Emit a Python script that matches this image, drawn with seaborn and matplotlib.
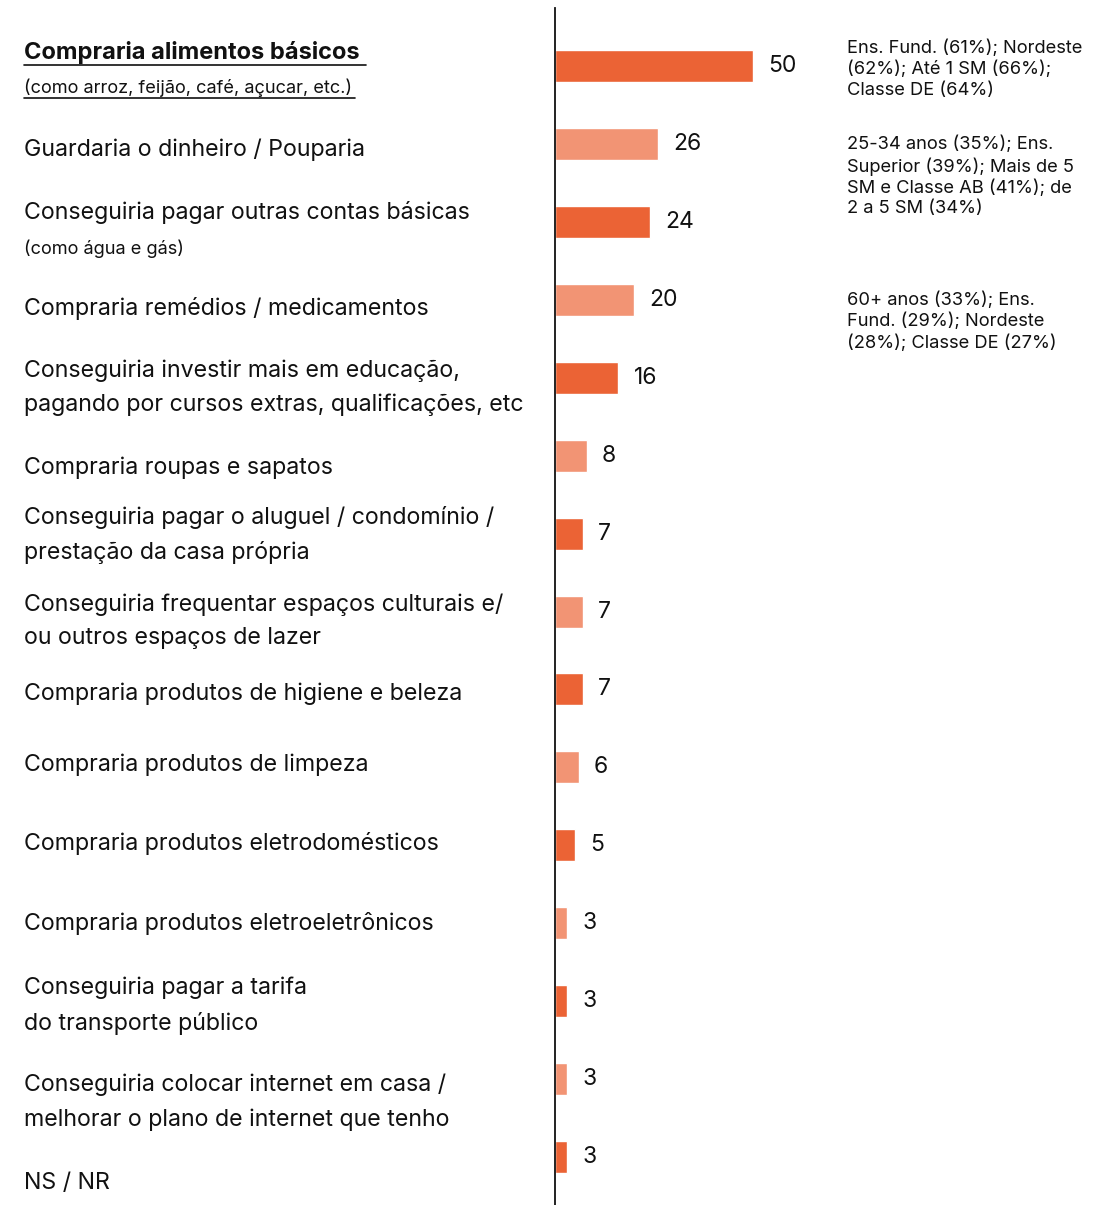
import numpy as np
import pandas as pd
import matplotlib.pyplot as plt
import matplotlib.transforms as mtransforms
from matplotlib.lines import Line2D
import seaborn as sns

# --- data (percent of respondents) ---
items = [
    "Compraria alimentos básicos",
    "Guardaria o dinheiro / Pouparia",
    "Conseguiria pagar outras contas básicas",
    "Compraria remédios / medicamentos",
    "Conseguiria investir mais em educação,\npagando por cursos extras, qualificações, etc",
    "Compraria roupas e sapatos",
    "Conseguiria pagar o aluguel / condomínio /\nprestação da casa própria",
    "Conseguiria frequentar espaços culturais e/\nou outros espaços de lazer",
    "Compraria produtos de higiene e beleza",
    "Compraria produtos de limpeza",
    "Compraria produtos eletrodomésticos",
    "Compraria produtos eletroeletrônicos",
    "Conseguiria pagar a tarifa\ndo transporte público",
    "Conseguiria colocar internet em casa /\nmelhorar o plano de internet que tenho",
    "NS / NR",
]
values = [50, 26, 24, 20, 16, 8, 7, 7, 7, 6, 5, 3, 3, 3, 3]
subtitles = {0: "(como arroz, feijão, café, açucar, etc.)", 2: "(como água e gás)"}
notes = {
    0: "Ens. Fund. (61%); Nordeste\n(62%); Até 1 SM (66%);\nClasse DE (64%)",
    1: "25-34 anos (35%); Ens.\nSuperior (39%); Mais de 5\nSM e Classe AB (41%); de\n2 a 5 SM (34%)",
    3: "60+ anos (33%); Ens.\nFund. (29%); Nordeste\n(28%); Classe DE (27%)",
}

# layout tweaks (vertical nudge of the left labels, in category units)
label_nudge = [-0.18, 0.075, -0.12, 0.117, 0.127, 0.16, 0.02, 0.125,
               0.05, -0.03, -0.02, 0.0, 0.06, 0.3, 0.34]
note_y = {0: 0.04, 1: 1.42, 3: 3.28}

DARK = "#EB6335"
LIGHT = "#F29474"

df = pd.DataFrame({
    "item": items,
    "value": values,
    "tone": ["a" if i % 2 == 0 else "b" for i in range(len(items))],
})

sns.set_theme(style="white")
plt.rcParams["font.family"] = ["Inter", "DejaVu Sans"]

W, H = 1114, 1205
fig = plt.figure(figsize=(W / 100, H / 100), dpi=100)
ax = fig.add_axes([555 / W, 0, 1 - 555 / W, 1 - 8 / H])

sns.barplot(data=df, x="value", y="item", hue="tone",
            palette={"a": DARK, "b": LIGHT}, width=0.41, dodge=False,
            legend=False, saturation=1, ax=ax)

for cont in ax.containers:
    ax.bar_label(cont, padding=11, fontsize=16.5, color="#111111")

ax.set_xlim(0, (W - 555) / 3.96)
ax.set_ylim(14.616, -0.745)
ax.set_xlabel("")
ax.set_ylabel("")
ax.set_xticks([])
ax.set_yticks([])
for s in ["top", "right", "bottom"]:
    ax.spines[s].set_visible(False)
ax.spines["left"].set_color("#111111")
ax.spines["left"].set_linewidth(1.3)

trans = mtransforms.blended_transform_factory(fig.transFigure, ax.transData)
x0 = 24 / W

title = None
for i, lab in enumerate(items):
    y = i + label_nudge[i]
    if i == 0:
        title = ax.text(x0, y, lab, transform=trans, ha="left", va="center",
                        fontsize=17, fontweight="bold", color="#111111")
    else:
        ax.text(x0, y, lab, transform=trans, ha="left", va="center",
                fontsize=16.7, color="#111111", linespacing=1.7)

sub0 = ax.text(x0, 0.28, subtitles[0], transform=trans, ha="left", va="center",
               fontsize=13.1, color="#111111")
ax.text(x0, 2.34, subtitles[2], transform=trans, ha="left", va="center",
        fontsize=13.1, color="#111111")

for i, txt in notes.items():
    ax.text(847 / W, note_y[i], txt, transform=trans, ha="left", va="center",
            fontsize=13.2, color="#111111", linespacing=1.27)

# underline the first label and its subtitle
fig.canvas.draw()
r = fig.canvas.get_renderer()
for t, extra in [(title, 6), (sub0, 3)]:
    bb = t.get_window_extent(renderer=r)
    yl = bb.y0 - 1
    fig.add_artist(Line2D([bb.x0 / W, (bb.x1 + extra) / W], [yl / H, yl / H],
                          transform=fig.transFigure, color="#111111", lw=1.2))

fig.savefig("out.png", dpi=100)
